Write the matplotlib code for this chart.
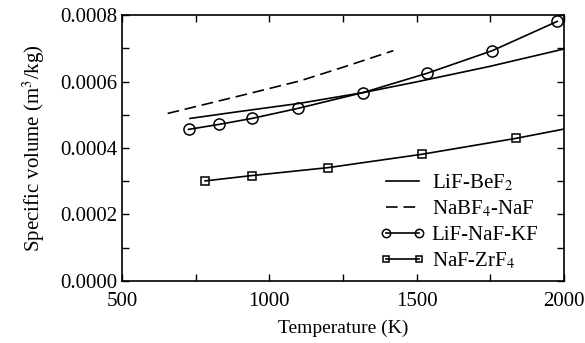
import matplotlib
matplotlib.use("Agg")
import matplotlib.pyplot as plt
from matplotlib.ticker import MultipleLocator, FormatStrFormatter

# Значения
lif_bef2_T = [731, 900, 1100, 1320, 1500, 1750, 2000]
lif_bef2_V = [0.000489, 0.000510, 0.000534, 0.000567, 0.000599, 0.000646, 0.000698]

nabf4_T = [655, 900, 1104, 1250, 1421]
nabf4_V = [0.000504, 0.000557, 0.000602, 0.000643, 0.000693]

flinak_T = [726, 829, 941, 1096, 1319, 1536, 1757, 1977]
flinak_V = [0.000456, 0.000471, 0.000489, 0.000519, 0.000567, 0.000625, 0.000693, 0.000781]

nazr_T = [782, 940, 1200, 1517, 1837, 2000]
nazr_V = [0.000301, 0.000317, 0.000341, 0.000381, 0.000429, 0.000457]
nazr_markers = [0, 1, 2, 3, 4]  # точки с маркерами

plt.rcParams['font.family'] = ['Liberation Serif', 'DejaVu Serif']
plt.rcParams['mathtext.fontset'] = 'stix'

fig = plt.figure(figsize=(5.85, 3.43), dpi=100)
ax = fig.add_axes([0.2085, 0.181, 0.7555, 0.775])

ax.plot(lif_bef2_T, lif_bef2_V, 'k-', lw=1.2, label='LiF-BeF$_2$')
ax.plot(nabf4_T, nabf4_V, 'k--', lw=1.2, dashes=(7, 3.5), label='NaBF$_4$-NaF')
ax.plot(flinak_T, flinak_V, 'k-', lw=1.2, marker='o', ms=8, mfc='none',
        mew=1.1, label='LiF-NaF-KF')
ax.plot(nazr_T, nazr_V, 'k-', lw=1.2, marker='s', ms=5.5, mfc='none',
        mew=1.1, markevery=nazr_markers, label='NaF-ZrF$_4$')

ax.set_xlim(500, 2000)
ax.set_ylim(0, 0.0008)
ax.xaxis.set_major_locator(MultipleLocator(500))
ax.xaxis.set_minor_locator(MultipleLocator(250))
ax.yaxis.set_major_locator(MultipleLocator(0.0002))
ax.yaxis.set_minor_locator(MultipleLocator(0.0001))
ax.yaxis.set_major_formatter(FormatStrFormatter('%.4f'))
ax.tick_params(which='both', direction='in', top=True, right=True,
               length=5, width=1, labelsize=15)
ax.tick_params(axis='x', pad=8)
for s in ax.spines.values():
    s.set_linewidth(1.2)

ax.set_xlabel('Temperature (K)', fontsize=14, labelpad=6)
ax.set_ylabel('Specific volume (m$^3$/kg)', fontsize=15, labelpad=9)

ax.legend(loc='lower right', frameon=False, fontsize=15, handlelength=2.2,
          labelspacing=0.28, handletextpad=0.3, numpoints=2, markerscale=0.75,
          bbox_to_anchor=(0.975, -0.02), borderaxespad=0.3)

fig.savefig('out.png', dpi=100)
